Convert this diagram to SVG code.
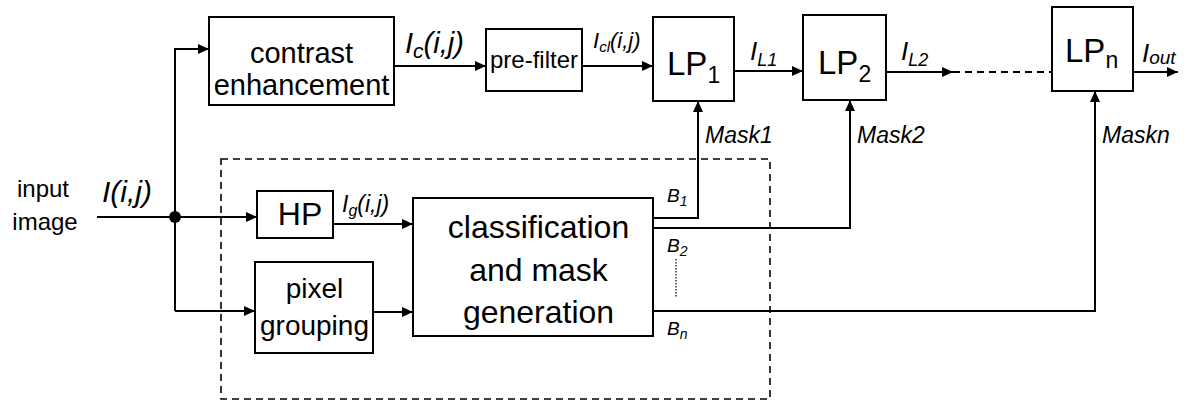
<svg xmlns="http://www.w3.org/2000/svg" width="1194" height="405" viewBox="0 0 1194 405">
  <style>
    .box { fill: #fff; stroke: #000; stroke-width: 2; }
    .wire { fill: none; stroke: #000; stroke-width: 2; }
    .arrow { marker-end: url(#head); }
    .lbl { font-family: "Liberation Sans", Arial, sans-serif; fill: #000; }
    .it { font-style: italic; }
    .mid { text-anchor: middle; }
  </style>
  <defs>
    <marker id="head" markerUnits="userSpaceOnUse" markerWidth="11" markerHeight="10" refX="11" refY="5" orient="auto">
      <path d="M0,0 L11,5 L0,10 z" fill="#000"/>
    </marker>
  </defs>
  <rect width="1194" height="405" fill="#fff"/>

  <!-- dashed enclosure around the mask-generation stage -->
  <rect x="221" y="159" width="549" height="240" fill="none" stroke="#000" stroke-width="1.6" stroke-dasharray="7 5"/>

  <!-- connectors -->
  <g id="connectors">
    <path class="wire" d="M97,217 H175"/>
    <circle cx="175" cy="217" r="6" fill="#000"/>
    <path class="wire arrow" d="M175,217 H257"/>
    <path class="wire arrow" d="M175,311 V49 H209"/>
    <path class="wire arrow" d="M175,311 H255"/>
    <path class="wire arrow" d="M394,66 H486"/>
    <path class="wire arrow" d="M582,66 H653"/>
    <path class="wire arrow" d="M734,71 H803"/>
    <path class="wire arrow" d="M886,72 H953"/>
    <path class="wire" d="M953,72 H1052" stroke-dasharray="7 5"/>
    <path class="wire arrow" d="M1133,72 H1178"/>
    <path class="wire arrow" d="M333,224 H413"/>
    <path class="wire arrow" d="M373,312 H413"/>
    <path class="wire arrow" d="M653,218 H698 V101"/>
    <path class="wire arrow" d="M653,228 H850 V100"/>
    <path class="wire arrow" d="M653,311 H1095 V91"/>
    <path d="M676,259 V298" stroke="#000" stroke-width="1.2" stroke-dasharray="1.5 1.5"/>
  </g>

  <!-- input -->
  <g id="input">
    <text class="lbl mid" x="43" y="197" font-size="24">input</text>
    <text class="lbl mid" x="45" y="230" font-size="24">image</text>
    <text class="lbl it" x="102" y="202" font-size="30">I(i,j)</text>
  </g>

  <g id="contrast">
    <rect class="box" x="209" y="17" width="185" height="88"/>
    <text class="lbl mid" x="301.5" y="63" font-size="29">contrast</text>
    <text class="lbl mid" x="301.5" y="95" font-size="29">enhancement</text>
  </g>
  <text class="lbl it" x="405" y="53" font-size="29">I<tspan font-size="21" dy="5">c</tspan><tspan dy="-5">(i,j)</tspan></text>

  <g id="prefilter">
    <rect class="box" x="486" y="29" width="96" height="62"/>
    <text class="lbl mid" x="534" y="68" font-size="24">pre-filter</text>
  </g>
  <text class="lbl it" x="593" y="48" font-size="22">I<tspan font-size="15" dy="4">cl</tspan><tspan dy="-4">(i,j)</tspan></text>

  <g id="lp1">
    <rect class="box" x="653" y="17" width="81" height="84"/>
    <text class="lbl" x="667" y="75" font-size="33">LP<tspan font-size="23" dy="8">1</tspan></text>
  </g>
  <text class="lbl it" x="750" y="60" font-size="26">I<tspan font-size="18" dy="6">L1</tspan></text>

  <g id="lp2">
    <rect class="box" x="803" y="15" width="83" height="85"/>
    <text class="lbl" x="818" y="74" font-size="33">LP<tspan font-size="23" dy="8">2</tspan></text>
  </g>
  <text class="lbl it" x="901" y="60" font-size="26">I<tspan font-size="18" dy="6">L2</tspan></text>

  <g id="lpn">
    <rect class="box" x="1052" y="7" width="81" height="84"/>
    <text class="lbl" x="1065" y="62" font-size="33">LP<tspan font-size="23" dy="6">n</tspan></text>
  </g>
  <text class="lbl it" x="1142" y="62" font-size="26">I<tspan font-size="19" dy="2">out</tspan></text>

  <g id="hp">
    <rect class="box" x="257" y="191" width="76" height="47"/>
    <text class="lbl mid" x="300" y="225" font-size="32">HP</text>
  </g>
  <text class="lbl it" x="342" y="212" font-size="23">I<tspan font-size="16" dy="4">g</tspan><tspan dy="-4">(i,j)</tspan></text>

  <g id="grouping">
    <rect class="box" x="255" y="262" width="118" height="91"/>
    <text class="lbl mid" x="314.5" y="298" font-size="28">pixel</text>
    <text class="lbl mid" x="314.5" y="335" font-size="28">grouping</text>
  </g>

  <g id="classification">
    <rect class="box" x="413" y="198" width="240" height="138"/>
    <text class="lbl mid" x="538.5" y="238" font-size="32">classification</text>
    <text class="lbl mid" x="538.5" y="281" font-size="32">and mask</text>
    <text class="lbl mid" x="538.5" y="323" font-size="32">generation</text>
  </g>

  <!-- band outputs and mask labels -->
  <g id="band-labels">
    <text class="lbl it" x="667" y="202" font-size="19">B<tspan font-size="14" dy="4">1</tspan></text>
    <text class="lbl it" x="667" y="252" font-size="19">B<tspan font-size="14" dy="4">2</tspan></text>
    <text class="lbl it" x="667" y="335" font-size="19">B<tspan font-size="14" dy="4">n</tspan></text>
    <text class="lbl it" x="705" y="143" font-size="23">Mask1</text>
    <text class="lbl it" x="857" y="143" font-size="23">Mask2</text>
    <text class="lbl it" x="1102" y="143" font-size="23">Maskn</text>
  </g>
</svg>
